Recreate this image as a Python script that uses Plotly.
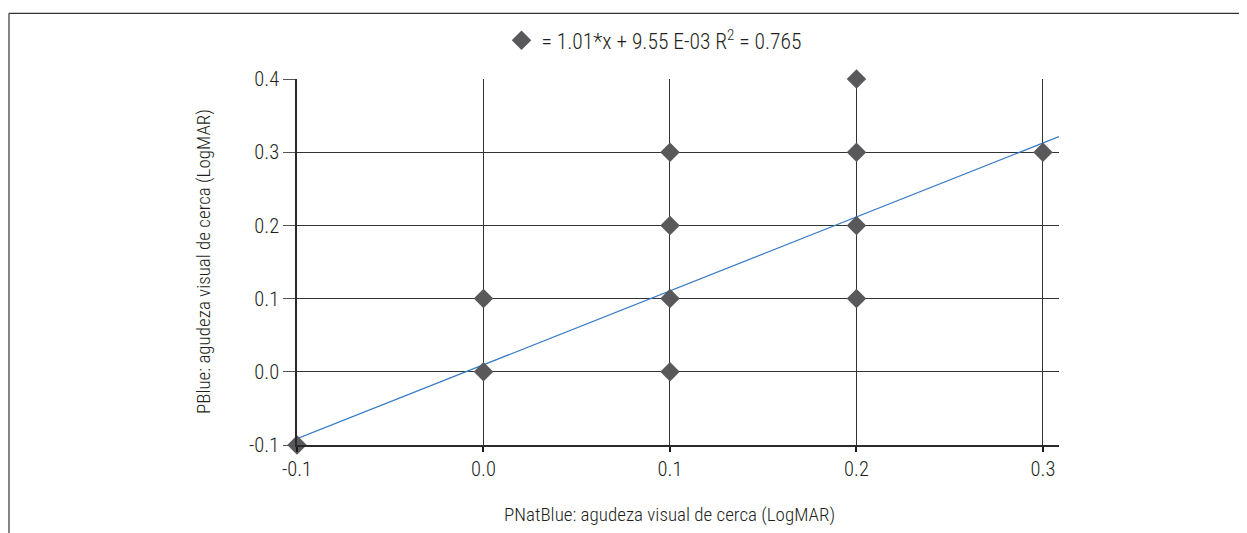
import plotly.graph_objects as go

# Data
pnat_x = [-0.1, 0.0, 0.0, 0.1, 0.1, 0.1, 0.1, 0.2, 0.2, 0.2, 0.2, 0.3]
pblue_y = [-0.1, 0.0, 0.1, 0.0, 0.1, 0.2, 0.3, 0.1, 0.2, 0.3, 0.4, 0.3]
slope = 1.01
intercept = 9.55e-03
trend_x = [-0.1, 0.3086]
trend_y = [slope * v + intercept for v in trend_x]
x_ticks = [-0.1, 0.0, 0.1, 0.2, 0.3]
y_ticks = [-0.1, 0.0, 0.1, 0.2, 0.3, 0.4]
legend_label = "= 1.01*x + 9.55 E-03 R<sup>2</sup> = 0.765"
x_title = "PNatBlue: agudeza visual de cerca (LogMAR)"
y_title = "PBlue: agudeza visual de cerca (LogMAR)"

FONT = "Roboto Condensed, Liberation Sans Narrow, sans-serif"
TXT = "#231f20"

OFF = 8  # page body margin
W, H = 1247, 533
L, T = 297 - OFF, 77 - OFF
pw, ph = 762, 368
R = W - L - pw
B = H - T - ph

def px_x(p):
    return (p - OFF - L) / pw

def px_y(p):
    return (T + ph - (p - OFF)) / ph

fig = go.Figure()

fig.add_trace(go.Scatter(
    x=trend_x, y=trend_y, mode="lines",
    line=dict(color="#3a7cc6", width=1.3),
    showlegend=False, hoverinfo="skip", cliponaxis=False,
))

fig.add_trace(go.Scatter(
    x=pnat_x, y=pblue_y, mode="markers",
    marker=dict(symbol="diamond", size=15, color="#59595b", line=dict(width=0)),
    name=legend_label, cliponaxis=False,
))

fig.update_layout(
    width=W, height=H,
    margin=dict(l=L, r=R, t=T, b=B),
    paper_bgcolor="white", plot_bgcolor="white",
    font=dict(family=FONT, size=20, color=TXT, weight=300),
    showlegend=True,
    legend=dict(
        orientation="h", x=px_x(654), xanchor="center", y=px_y(38), yanchor="middle",
        font=dict(family=FONT, size=21.5, color=TXT, weight=300),
        bgcolor="rgba(0,0,0,0)", itemwidth=30,
    ),
    xaxis=dict(
        range=[-0.1, 0.3086], tickvals=x_ticks, ticktext=[f"{v:.1f}" for v in x_ticks],
        showgrid=True, gridcolor="#333333", gridwidth=1,
        showline=True, linecolor="#2a2a2a", linewidth=1.5,
        ticks="outside", ticklen=5, tickwidth=2, tickcolor="#1a1a1a",
        zeroline=False, tickfont=dict(family=FONT, size=20.5, color=TXT, weight=300),
    ),
    yaxis=dict(
        range=[-0.1, 0.4], tickvals=y_ticks, ticktext=[f"{v:.1f}" for v in y_ticks],
        showgrid=True, gridcolor="#333333", gridwidth=1,
        showline=True, linecolor="#2a2a2a", linewidth=1.5,
        ticks="outside", ticklen=12, tickwidth=1, tickcolor="#555555",
        zeroline=False, tickfont=dict(family=FONT, size=20.5, color=TXT, weight=300),
    ),
    annotations=[
        dict(text=x_title, xref="paper", yref="paper", x=px_x(669), y=px_y(515),
             xanchor="center", yanchor="middle", showarrow=False,
             font=dict(family=FONT, size=19, color=TXT, weight=300)),
        dict(text=y_title, xref="paper", yref="paper", x=px_x(203), y=px_y(261),
             xanchor="center", yanchor="middle", showarrow=False, textangle=-90,
             font=dict(family=FONT, size=19, color=TXT, weight=300)),
    ],
    shapes=[
        dict(type="line", xref="paper", yref="paper", x0=px_x(9), x1=px_x(9),
             y0=px_y(545), y1=px_y(11), line=dict(color="#333333", width=1.2)),
        dict(type="line", xref="paper", yref="paper", x0=px_x(9), x1=px_x(1260),
             y0=px_y(11), y1=px_y(11), line=dict(color="#333333", width=1.2)),
    ],
)

fig.write_html("out.html")
